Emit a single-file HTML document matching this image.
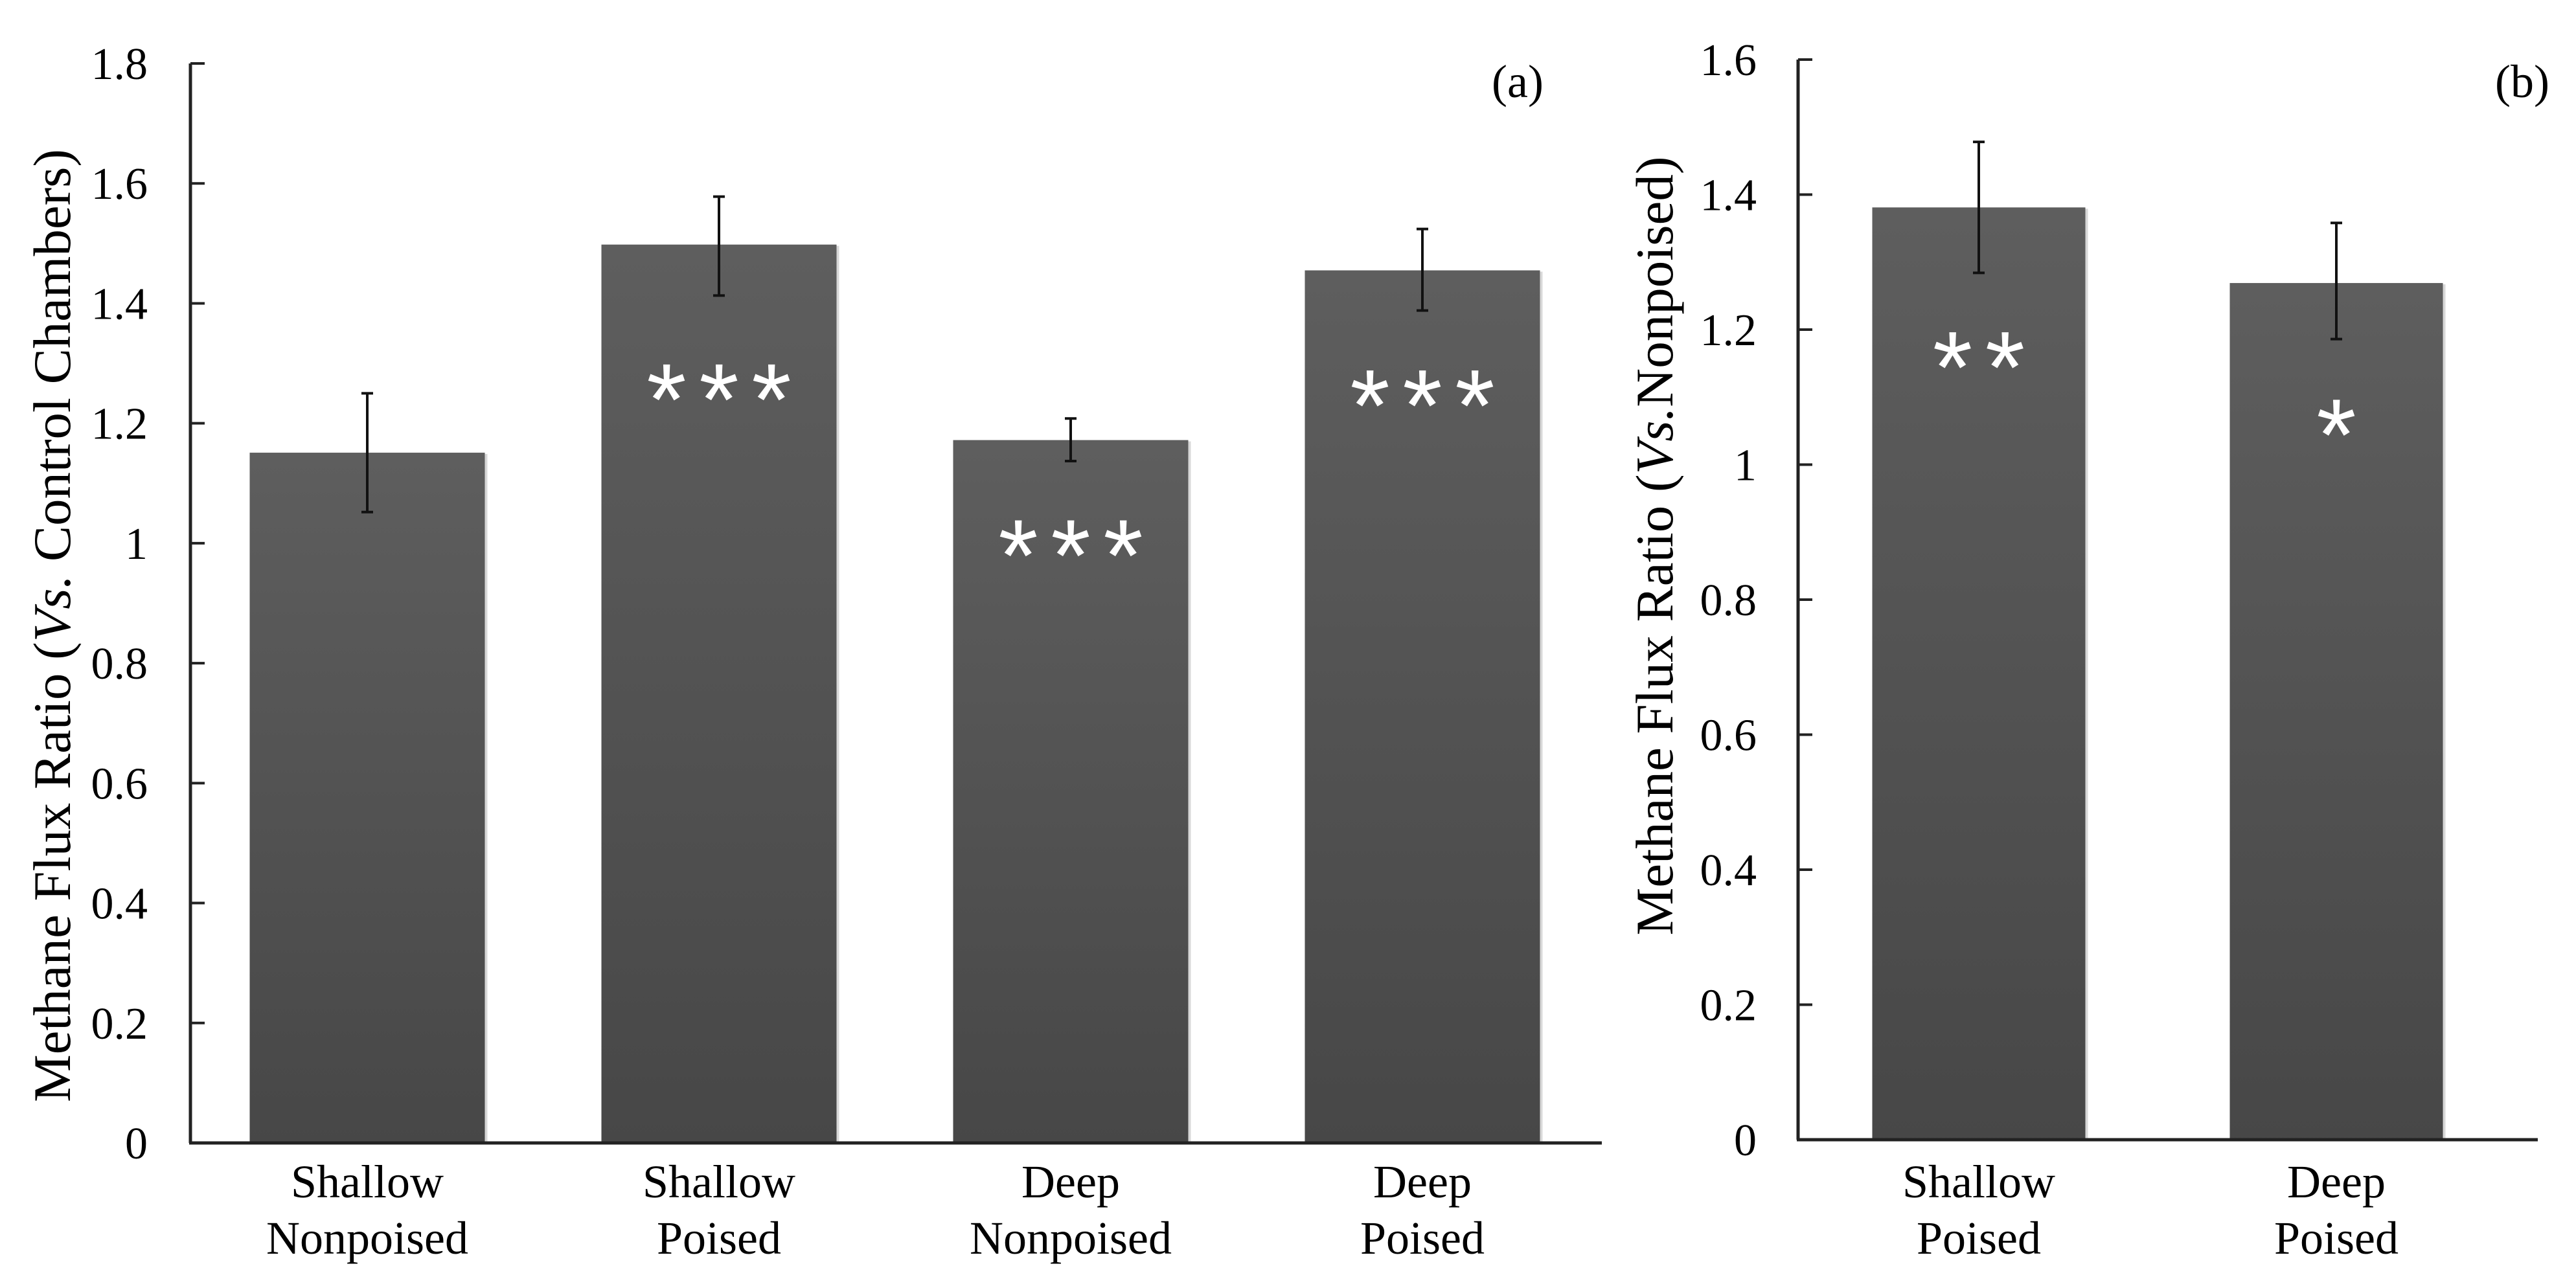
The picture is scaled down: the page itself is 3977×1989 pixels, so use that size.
<!DOCTYPE html>
<html><head><meta charset="utf-8"><style>
html,body{margin:0;padding:0;background:#fff;}
svg{display:block;}
text{font-family:"Liberation Serif",serif;fill:#000;}
.ast{font-family:"Liberation Sans",sans-serif;fill:#fff;}
</style></head><body>
<svg id="chart" width="3977" height="1989" viewBox="0 0 3977 1989" xmlns="http://www.w3.org/2000/svg">
<defs>
<linearGradient id="barg" x1="0" y1="0" x2="0" y2="1">
<stop offset="0" stop-color="#5e5e5e"/><stop offset="1" stop-color="#474747"/>
</linearGradient>
</defs>
<g id="pa"></g>
<g id="pb"></g>
</svg>
<script>
// Panel (a) data
const catsA1 = ["Shallow","Shallow","Deep","Deep"];
const catsA2 = ["Nonpoised","Poised","Nonpoised","Poised"];
const valsA = [1.151, 1.498, 1.172, 1.455];
const errLoA = [1.052, 1.413, 1.137, 1.388];
const errHiA = [1.250, 1.578, 1.208, 1.524];
const sigA = ["", "***", "***", "***"];
const sigYA = [0, 1.28, 1.02, 1.27];
const ticksA = [0,0.2,0.4,0.6,0.8,1,1.2,1.4,1.6,1.8];
const tickLabA = ["0","0.2","0.4","0.6","0.8","1","1.2","1.4","1.6","1.8"];
// Panel (b) data
const catsB1 = ["Shallow","Deep"];
const catsB2 = ["Poised","Poised"];
const valsB = [1.381, 1.269];
const errLoB = [1.284, 1.186];
const errHiB = [1.478, 1.358];
const sigB = ["**", "*"];
const sigYB = [1.18, 1.08];
const ticksB = [0,0.2,0.4,0.6,0.8,1,1.2,1.4,1.6];
const tickLabB = ["0","0.2","0.4","0.6","0.8","1","1.2","1.4","1.6"];

const NS="http://www.w3.org/2000/svg";
function mk(parent,tag,attrs,txt){const e=document.createElementNS(NS,tag);for(const k in attrs)e.setAttribute(k,attrs[k]);if(txt!==undefined)e.textContent=txt;parent.appendChild(e);return e;}

function panel(g,cfg){
  const y=v=>cfg.y0-(v-0)/cfg.max*(cfg.y0-cfg.yTop);
  const xc=i=>cfg.x0+cfg.first+i*cfg.step;
  const ya=mk(g,"line",{x1:cfg.x0,y1:cfg.yTop,x2:cfg.x0,y2:cfg.y0,stroke:"#222","stroke-width":5});
  
  
  cfg.ticks.forEach((t,i)=>{
    const tk=mk(g,"line",{x1:cfg.x0,y1:y(t),x2:cfg.x0+22,y2:y(t),stroke:"#222","stroke-width":4});
    
    
    const tl=mk(g,"text",{x:cfg.labR,y:y(t)+24,"text-anchor":"end","font-size":70},cfg.tickLab[i]);
    
    
  });
  cfg.vals.forEach((v,i)=>{
    const c=xc(i);
    const sh=mk(g,"rect",{x:c-cfg.bw/2+4,y:y(v)+2,width:cfg.bw,height:cfg.y0-y(v)-2,fill:"#d8d8d8"});
    
    
    const b=mk(g,"rect",{x:c-cfg.bw/2,y:y(v),width:cfg.bw,height:cfg.y0-y(v),fill:"url(#barg)"});
    
    
    const e=mk(g,"path",{d:`M${c},${y(cfg.hi[i])}V${y(cfg.lo[i])}M${c-9},${y(cfg.hi[i])}H${c+9}M${c-9},${y(cfg.lo[i])}H${c+9}`,stroke:"#111","stroke-width":4,fill:"none"});
    
    
    if(cfg.sig[i]){
      const n=cfg.sig[i].length, sp=cfg.astSp;
      for(let k=0;k<n;k++){
        const a=mk(g,"text",{x:c+(k-(n-1)/2)*sp,y:y(cfg.sigY[i])+92,"text-anchor":"middle","font-size":158,class:"ast"},"*");
        
        
      }
    }
    const l1=mk(g,"text",{x:c,y:1849,"text-anchor":"middle","font-size":72},cfg.c1[i]);
    
    
    const l2=mk(g,"text",{x:c,y:1936,"text-anchor":"middle","font-size":72},cfg.c2[i]);
    
    
  });
  const xa=mk(g,"line",{x1:cfg.x0-2,y1:cfg.y0,x2:cfg.xEnd,y2:cfg.y0,stroke:"#222","stroke-width":5});
  
  
  const pl=mk(g,"text",{x:cfg.plX,y:150,"text-anchor":"middle","font-size":72},cfg.plabel);
  
  
  const tt=mk(g,"text",{x:0,y:0,"text-anchor":"middle","font-size":82,transform:`translate(${cfg.titleX},${cfg.titleY}) rotate(-90)`,textLength:cfg.titleLen,lengthAdjust:"spacingAndGlyphs"});
  
  
  cfg.title.forEach(p=>{const s=mk(tt,"tspan",p.it?{"font-style":"italic"}:{},p.t);});
}

panel(document.getElementById("pa"),{x0:294,y0:1765,yTop:98,max:1.8,first:273,step:543,bw:363,
  ticks:ticksA,tickLab:tickLabA,vals:valsA,lo:errLoA,hi:errHiA,sig:sigA,sigY:sigYA,astSp:81,
  c1:catsA1,c2:catsA2,xEnd:2473,labR:228,plX:2343,plabel:"(a)",
  titleX:108,titleY:966,titleLen:1472,
  title:[{t:"Methane Flux Ratio ("},{t:"Vs.",it:true},{t:" Control Chambers)"}]});
panel(document.getElementById("pb"),{x0:2776,y0:1760,yTop:92,max:1.6,first:279,step:552,bw:329,
  ticks:ticksB,tickLab:tickLabB,vals:valsB,lo:errLoB,hi:errHiB,sig:sigB,sigY:sigYB,astSp:81,
  c1:catsB1,c2:catsB2,xEnd:3918,labR:2712,plX:3894,plabel:"(b)",
  titleX:2582,titleY:843,titleLen:1203,
  title:[{t:"Methane Flux Ratio ("},{t:"Vs.",it:true},{t:"Nonpoised)"}]});
</script>
</body></html>
